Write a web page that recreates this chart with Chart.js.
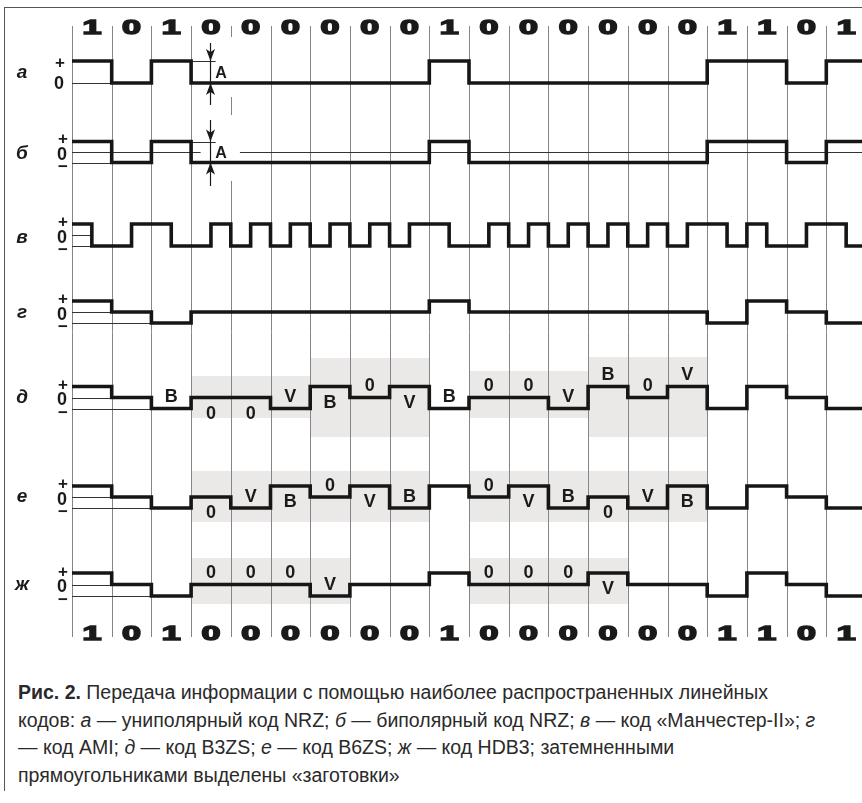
<!DOCTYPE html>
<html>
<head>
<meta charset="utf-8">
<script src="https://cdn.jsdelivr.net/npm/chart.js@4"></script>
<style>
html,body{margin:0;padding:0;background:#fff;overflow:hidden;width:862px;height:803px}
#frame{position:absolute;left:4px;top:7px;width:900px;height:783px;border-left:1px solid #555;border-top:1px solid #555}
#wrap{position:absolute;left:0;top:0;width:870px;height:660px}
#cap{position:absolute;left:18px;top:679px;font-family:"Liberation Sans",Arial,sans-serif;font-size:19.5px;line-height:27.5px;color:#2a2a2a;white-space:nowrap}
#cap b{font-weight:bold}
</style>
</head>
<body>
<div id="frame"></div>
<div id="wrap"><canvas id="c" width="870" height="660"></canvas></div>
<div id="cap"><b>Рис. 2.</b> Передача информации с помощью наиболее распространенных линейных<br>кодов: <i>а</i> — униполярный код NRZ; <i>б</i> — биполярный код NRZ; <i>в</i> — код «Манчестер-II»; <i>г</i><br>— код AMI; <i>д</i> — код B3ZS; <i>е</i> — код B6ZS; <i>ж</i> — код HDB3; затемненными<br>прямоугольниками выделены «заготовки»</div>
<script>
// transmitted bits (top and bottom rows)
const bits = [1,0,1,0,0,0,0,0,0,1,0,0,0,0,0,0,1,1,0,1];

// line levels: +1 / 0 / -1
const nrzUni = [1,0,1,0,0,0,0,0,0,1,0,0,0,0,0,0,1,1,0,1];
const nrzBip = [1,-1,1,-1,-1,-1,-1,-1,-1,1,-1,-1,-1,-1,-1,-1,1,1,-1,1];
// manchester is per half bit
const manchester = [1,-1, -1,1, 1,-1, -1,1, -1,1, -1,1, -1,1, -1,1, -1,1, 1,-1,
                    -1,1, -1,1, -1,1, -1,1, -1,1, -1,1, 1,-1, 1,-1, -1,1, 1,-1];
const ami  = [1,0,-1,0,0,0,0,0,0,1,0,0,0,0,0,0,-1,1,0,-1];
const b3zs = [1,0,-1,0,0,-1,1,0,1,-1,0,0,-1,1,0,1,-1,1,0,-1];
const b6zs = [1,0,-1,0,-1,1,0,1,-1,1,0,1,-1,0,-1,1,-1,1,0,-1];
const hdb3 = [1,0,-1,0,0,0,-1,0,0,1,0,0,0,1,0,0,-1,1,0,-1];

// B / V / 0 marks and side (1 above, -1 below)
const b3zsMarks = ['','','B','0','0','V','B','0','V','B','0','0','V','B','0','V','','','',''];
const b3zsSide  = [0,0,1,-1,-1,1,-1,1,-1,1,1,1,1,1,1,1,0,0,0,0];
const b6zsMarks = ['','','','0','V','B','0','V','B','','0','V','B','0','V','B','','','',''];
const b6zsSide  = [0,0,0,-1,1,-1,1,-1,1,0,1,-1,1,-1,1,-1,0,0,0,0];
const hdb3Marks = ['','','','0','0','0','V','','','','0','0','0','V','','','','','',''];
const hdb3Side  = [0,0,0,1,1,1,1,0,0,0,1,1,1,-1,0,0,0,0,0,0];

// shaded "blanks" as bit ranges
const b3zsBlanks = [[3,6],[6,9],[10,13],[13,16]];
const b6zsBlanks = [[3,9],[10,16]];
const hdb3Blanks = [[3,7],[10,14]];

const rowNames = ['а','б','в','г','д','е','ж'];

// layout (pixels, since y scale = canvas px)
const rows = [
  {levels:nrzUni, step:1, zero:83, amp:22, base:78, signs:[['+',61.5,60],['0',83,59]],
   refs:[[1,3,3.62],[0,0,1]]},
  {levels:nrzBip, step:1, zero:152, amp:10.5, base:159,
   refs:[[1,3,3.62],[0,0,3.24],[0,4.23,20],[-1,0,1]]},
  {levels:manchester, step:0.5, zero:235, amp:11, base:243, refs:[[1,0,0.5],[0,0,0.5],[-1,0,0.5]]},
  {levels:ami, step:1, zero:312, amp:11, base:318},
  {levels:b3zs, step:1, zero:397.5, amp:11, base:403, marks:b3zsMarks, sides:b3zsSide,
   blanks:b3zsBlanks, blankY:[[376,418],[358,437],[371,418],[357,437]]},
  {levels:b6zs, step:1, zero:497, amp:11, base:502, marks:b6zsMarks, sides:b6zsSide,
   blanks:b6zsBlanks, blankY:[[471,522],[471,522]]},
  {levels:hdb3, step:1, zero:584.5, amp:11.5, base:590, marks:hdb3Marks, sides:hdb3Side,
   blanks:hdb3Blanks, blankY:[[558,604],[558,604]]}
];
const markerBit = 3.47;

function rowPoints(r) {
  const pts = r.levels.map((v,i) => ({x:i*r.step, y:r.zero - v*r.amp}));
  pts.push({x:r.levels.length*r.step, y:r.zero - r.levels[r.levels.length-1]*r.amp});
  return pts;
}

function txt(ctx, s, x, cy, font, size) {
  ctx.font = font;
  ctx.textAlign = 'center';
  ctx.textBaseline = 'alphabetic';
  ctx.fillText(s, x, cy + size*0.358);
}

const decor = {
  id:'decor',
  beforeDatasetsDraw(chart) {
    const ctx = chart.ctx, xs = chart.scales.x, ys = chart.scales.y;
    ctx.save();
    // shaded blanks
    ctx.fillStyle = '#eae9e7';
    rows.forEach(r => {
      if (!r.blanks) return;
      r.blanks.forEach((b,i) => {
        const x0 = xs.getPixelForValue(b[0]), x1 = xs.getPixelForValue(b[1]);
        ctx.fillRect(x0, r.blankY[i][0], x1-x0, r.blankY[i][1]-r.blankY[i][0]);
      });
    });
    // bit grid
    ctx.strokeStyle = '#858585';
    ctx.lineWidth = 1;
    for (let k = 0; k <= bits.length; k++) {
      const px = Math.round(xs.getPixelForValue(k)) + 0.5;
      ctx.beginPath();
      ctx.moveTo(px, ys.getPixelForValue(26));
      ctx.lineTo(px, ys.getPixelForValue(637));
      ctx.stroke();
    }
    // white gaps behind the "A" labels
    ctx.fillStyle = '#fff';
    ctx.fillRect(214, 37, 22, 60);
    ctx.fillRect(214, 115, 22, 66);
    // thin level lines
    ctx.strokeStyle = '#333';
    ctx.lineWidth = 1;
    rows.forEach(r => {
      const refs = r.refs || [[1,0,1],[0,0,1],[-1,0,2]];
      refs.forEach(([lv,a,b]) => {
        const py = Math.round(r.zero - lv*r.amp) + 0.5;
        ctx.beginPath();
        ctx.moveTo(xs.getPixelForValue(a), py);
        ctx.lineTo(xs.getPixelForValue(b), py);
        ctx.stroke();
      });
    });
    ctx.restore();
  },
  afterDatasetsDraw(chart) {
    const ctx = chart.ctx, xs = chart.scales.x;
    ctx.save();
    ctx.fillStyle = '#1a1a1a';
    ctx.strokeStyle = '#1a1a1a';
    // amplitude markers "A"
    const mx = Math.round(xs.getPixelForValue(markerBit)) + 0.5;
    [[0,43,105],[1,120,186]].forEach(([ri,t,b]) => {
      const r = rows[ri];
      const hi = r.zero - r.amp, lo = r.levels === nrzUni ? r.zero : r.zero + r.amp;
      ctx.lineWidth = 1.2;
      ctx.beginPath(); ctx.moveTo(mx, t); ctx.lineTo(mx, b); ctx.stroke();
      ctx.beginPath();
      ctx.moveTo(mx, hi); ctx.lineTo(mx-4.5, hi-12); ctx.lineTo(mx, hi-9); ctx.lineTo(mx+4.5, hi-12);
      ctx.closePath(); ctx.fill();
      ctx.beginPath();
      ctx.moveTo(mx, lo); ctx.lineTo(mx-4.5, lo+12); ctx.lineTo(mx, lo+9); ctx.lineTo(mx+4.5, lo+12);
      ctx.closePath(); ctx.fill();
      txt(ctx, 'A', 221, (hi+lo)/2, 'bold 16px "Liberation Sans"', 16);
    });
    // B / V / 0 marks
    rows.forEach(r => {
      if (!r.marks) return;
      r.marks.forEach((m,i) => {
        if (!m) return;
        const sy = r.zero - r.levels[i]*r.amp;
        const cy = r.sides[i] > 0 ? sy - 12.5 : sy + 15;
        txt(ctx, m, xs.getPixelForValue(i+0.5), cy, 'bold 18px "Liberation Sans"', 18);
      });
    });
    // bit digits top and bottom
    ctx.font = 'bold 20px "Liberation Sans"';
    ctx.textAlign = 'center';
    ctx.textBaseline = 'alphabetic';
    ctx.lineWidth = 1.5;
    bits.forEach((b,i) => {
      const cx = xs.getPixelForValue(i+0.5);
      [33.5, 640].forEach(by => {
        ctx.save();
        ctx.translate(cx, by);
        ctx.scale(1.7, 1);
        ctx.fillText(String(b), 0, 0);
        ctx.strokeText(String(b), 0, 0);
        ctx.restore();
      });
    });
    // row names and level signs
    rows.forEach((r,i) => {
      ctx.font = 'italic bold 19px "Liberation Sans"';
      ctx.textAlign = 'center';
      ctx.fillText(rowNames[i], 22, r.base);
      const signs = r.signs || [['+', r.zero-14, 63],['0', r.zero+1.5, 62],['−', r.zero+14, 63]];
      signs.forEach(([s,cy,cx]) => {
        const size = s === '0' ? 18 : 17;
        txt(ctx, s, cx, cy, 'bold ' + size + 'px "Liberation Sans"', size);
      });
    });
    ctx.restore();
  }
};

new Chart(document.getElementById('c'), {
  type:'line',
  data:{
    datasets: rows.map((r,i) => ({
      label: rowNames[i],
      data: rowPoints(r),
      stepped:'before',
      borderColor:'#161616',
      borderWidth:3.6,
      borderJoinStyle:'miter',
      borderCapStyle:'butt',
      pointRadius:0,
      fill:false
    }))
  },
  options:{
    responsive:false,
    animation:false,
    events:[],
    layout:{padding:{left:72, right:4, top:26, bottom:23}},
    plugins:{legend:{display:false}, tooltip:{enabled:false}},
    scales:{
      x:{type:'linear', min:0, max:20, display:false},
      y:{type:'linear', min:26, max:637, reverse:true, display:false}
    }
  },
  plugins:[decor]
});
</script>
</body>
</html>
